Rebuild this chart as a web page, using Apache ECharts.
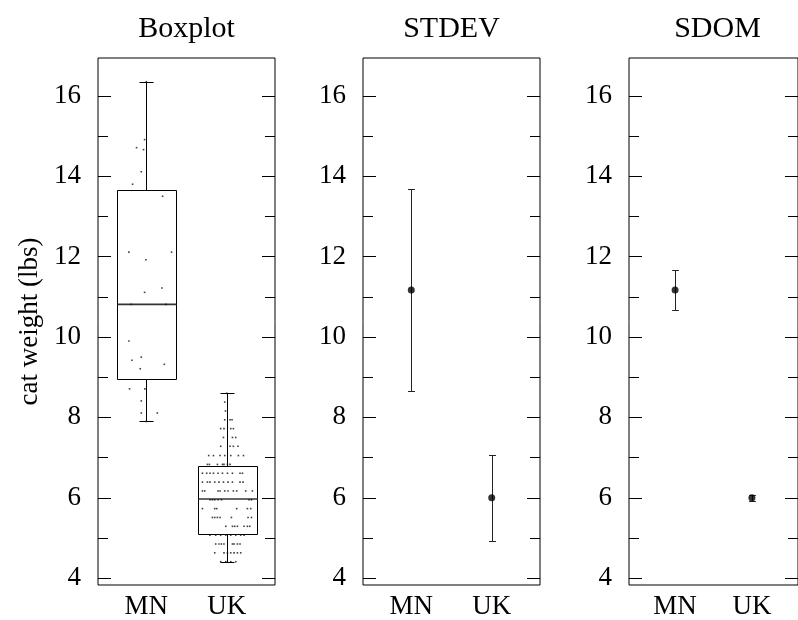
<!DOCTYPE html>
<html>
<head>
<meta charset="utf-8">
<script src="https://cdn.jsdelivr.net/npm/echarts@6/dist/echarts.min.js"></script>
<style>html,body{margin:0;padding:0;background:#fff}#c{width:798px;height:620px}</style>
</head>
<body>
<div id="c"></div>
<script>
// ---------------- data ----------------
const categories = ['MN', 'UK'];
const panelTitles = ['Boxplot', 'STDEV', 'SDOM'];
const yAxisName = 'cat weight (lbs)';
const yMajorTicks = [4, 6, 8, 10, 12, 14, 16];
const yMinorTicks = [5, 7, 9, 11, 13, 15];
const yRange = [3.83, 16.94];
const xRange = [0.4, 2.6];

// boxplot statistics per category
const boxLow    = [7.91, 4.41];
const boxQ1     = [8.96, 5.09];
const boxMedian = [10.81, 5.97];
const boxQ3     = [13.66, 6.79];
const boxHigh   = [16.35, 8.60];

// mean and spreads per category
const means = [11.17, 6.00];
const stdev = [2.52, 1.07];
const sdom  = [0.50, 0.07];

// MN raw observations (lbs) and their horizontal jitter
const mnValues = [16.35, 14.91, 14.71, 14.66, 14.11, 13.80, 13.50, 12.11, 12.11, 11.92, 11.22, 11.11,
  10.81, 10.81, 9.90, 9.50, 9.42, 9.32, 9.21, 8.71, 8.71, 8.41, 8.11, 8.11, 7.90];
const mnJitter = [0, -0.021, -0.121, -0.034, -0.062, -0.170, 0.203, -0.216, 0.314, -0.005, 0.194, -0.021,
  -0.186, 0.244, -0.216, -0.062, -0.179, 0.224, -0.075, -0.208, -0.017, -0.062, -0.062, 0.137, 0];

// UK observations: value levels (lbs) and jitter of each observation at that level
const ukLevels = [8.60, 8.38, 8.16, 7.94, 7.72, 7.50, 7.28, 7.05, 6.83, 6.61, 6.39, 6.17, 5.95, 5.73,
  5.51, 5.29, 5.07, 4.85, 4.63, 4.41];
const ukJitterByLevel = [
  [0],
  [-0.025],
  [-0.016],
  [-0.025, 0.041, 0.066],
  [-0.075, -0.034, 0.050, 0.083],
  [-0.041, 0.071, 0.112],
  [-0.075, 0.041, 0.083, 0.140],
  [-0.224, -0.165, -0.083, -0.025, 0.050, 0.145, 0.208],
  [-0.240, -0.215, -0.116, -0.053, -0.034, 0.009, 0.041],
  [-0.302, -0.249, -0.208, -0.165, -0.108, -0.053, 0.009, 0.071, 0.165, 0.195],
  [-0.302, -0.240, -0.208, -0.149, -0.096, -0.041, 0.016, 0.071, 0.165, 0.203],
  [-0.302, -0.273, -0.108, -0.083, -0.025, 0.016, 0.083, 0.124, 0.236, 0.319],
  [-0.208, -0.178, -0.149, -0.108, -0.066, 0.277, 0.307],
  [-0.302, -0.149, -0.124, 0.124, 0.257, 0.298],
  [-0.178, -0.149, -0.116, -0.083, 0.058, 0.265, 0.307],
  [-0.012, 0.071, 0.099, 0.133, 0.215, 0.257, 0.286],
  [-0.208, -0.137, -0.075, -0.012, 0.050, 0.112, 0.174, 0.215],
  [-0.137, -0.096, -0.066, -0.034, 0.071, 0.091, 0.133, 0.165],
  [-0.149, -0.034, 0.009, 0.050, 0.091, 0.133, 0.174],
  [-0.075, -0.012, 0.050, 0.112]
];

// ---------------- styling ----------------
const FONT = "'Liberation Serif', 'Times New Roman', serif";
const FS = 27;
const TITLE_FS = 30;
const BOX_W = 0.733;   // box width in x units
const STAPLE_W = 0.174;
const ERR_CAP_W = 0.087;
const panelLefts = [98, 363, 629];
const panelWidth = 177;
const panelTop = 58;
const panelHeight = 530;

// ---------------- build ----------------
const catX = categories.map((c, i) => i + 1);

const boxData = catX.map((x, i) => [x, boxLow[i], boxQ1[i], boxMedian[i], boxQ3[i], boxHigh[i]]);
const mnPoints = mnValues.map((v, i) => [catX[0] + mnJitter[i], v]);
const ukPoints = [];
ukLevels.forEach((v, li) => ukJitterByLevel[li].forEach(j => ukPoints.push([catX[1] + j, v])));

const px = v => Math.round(v) + 0.5;

function renderBox(params, api) {
  const x = api.value(0);
  const lo = api.coord([x, api.value(1)]);
  const q1 = api.coord([x, api.value(2)]);
  const md = api.coord([x, api.value(3)]);
  const q3 = api.coord([x, api.value(4)]);
  const hi = api.coord([x, api.value(5)]);
  const hw = api.size([BOX_W, 0])[0] / 2;
  const sw = api.size([STAPLE_W, 0])[0] / 2;
  const cx = px(lo[0]);
  const st = { stroke: '#000', lineWidth: 1, fill: null };
  const L = (x1, y1, x2, y2, w, c) => ({ type: 'line', shape: { x1, y1, x2, y2 }, style: { stroke: c || '#000', lineWidth: w || 1 } });
  return {
    type: 'group',
    children: [
      { type: 'rect', shape: { x: px(cx - hw), y: px(q3[1]), width: Math.round(2 * hw), height: Math.round(q1[1] - q3[1]) }, style: st },
      L(px(cx - hw), md[1], px(cx + hw), md[1], 1.6, '#333'),
      L(cx, px(q3[1]), cx, px(hi[1])),
      L(cx, px(q1[1]), cx, px(lo[1])),
      L(cx - sw, px(hi[1]), cx + sw, px(hi[1])),
      L(cx - sw, px(lo[1]), cx + sw, px(lo[1]))
    ]
  };
}

function renderErr(params, api) {
  const x = api.value(0);
  const m = api.value(1), e = api.value(2);
  const top = api.coord([x, m + e]);
  const bot = api.coord([x, m - e]);
  const cw = api.size([ERR_CAP_W, 0])[0] / 2;
  const cx = px(top[0]);
  const L = (x1, y1, x2, y2) => ({ type: 'line', shape: { x1, y1, x2, y2 }, style: { stroke: '#222', lineWidth: 1 } });
  return {
    type: 'group',
    children: [
      L(cx, px(top[1]), cx, px(bot[1])),
      L(cx - cw, px(top[1]), cx + cw, px(top[1])),
      L(cx - cw, px(bot[1]), cx + cw, px(bot[1]))
    ]
  };
}

const grids = [], xAxes = [], yAxes = [], titles = [], series = [];
panelLefts.forEach((left, g) => {
  grids.push({ left, top: panelTop, width: panelWidth, height: panelHeight, show: true,
    borderColor: '#000', borderWidth: 1, backgroundColor: 'transparent', containLabel: false });
  titles.push({ text: panelTitles[g], left: left + panelWidth / 2, top: 14, textAlign: 'center', padding: 0,
    textStyle: { fontFamily: FONT, fontSize: TITLE_FS, fontWeight: 'normal', color: '#000' } });
  xAxes.push({ gridIndex: g, type: 'value', min: xRange[0], max: xRange[1],
    axisLine: { show: false }, axisTick: { show: false }, splitLine: { show: false },
    axisLabel: { customValues: catX, formatter: v => categories[Math.round(v) - 1], margin: 8,
      fontFamily: FONT, fontSize: FS, color: '#000' } });
  const yBase = (pos, ticks, len, labels) => ({
    gridIndex: g, type: 'value', min: yRange[0], max: yRange[1], position: pos,
    axisLine: { show: false }, splitLine: { show: false },
    axisTick: { show: true, inside: true, length: len, customValues: ticks, lineStyle: { color: '#000', width: 1 } },
    axisLabel: labels ? { show: true, customValues: ticks, margin: 17, fontFamily: FONT, fontSize: FS, color: '#000' } : { show: false }
  });
  const yl = yBase('left', yMajorTicks, 13, true);
  if (g === 0) {
    yl.name = yAxisName; yl.nameLocation = 'middle'; yl.nameGap = 55;
    yl.nameTextStyle = { fontFamily: FONT, fontSize: FS, color: '#000' };
  }
  const base = yAxes.length;
  yAxes.push(yl, yBase('left', yMinorTicks, 10, false), yBase('right', yMajorTicks, 13, false), yBase('right', yMinorTicks, 10, false));
  const yi = base;
  if (g === 0) {
    series.push({ type: 'custom', xAxisIndex: g, yAxisIndex: yi, renderItem: renderBox, data: boxData, silent: true, z: 2 });
    series.push({ type: 'scatter', xAxisIndex: g, yAxisIndex: yi, data: mnPoints, symbol: 'rect', symbolSize: 1.6,
      itemStyle: { color: '#111' }, silent: true, z: 3 });
    series.push({ type: 'scatter', xAxisIndex: g, yAxisIndex: yi, data: ukPoints, symbol: 'rect', symbolSize: 1.6,
      itemStyle: { color: '#111' }, silent: true, z: 3 });
  } else {
    const spread = g === 1 ? stdev : sdom;
    series.push({ type: 'custom', xAxisIndex: g, yAxisIndex: yi, renderItem: renderErr,
      data: catX.map((x, i) => [x, means[i], spread[i]]), silent: true, z: 2 });
    series.push({ type: 'scatter', xAxisIndex: g, yAxisIndex: yi, data: catX.map((x, i) => [x, means[i]]),
      symbol: 'circle', symbolSize: 7, itemStyle: { color: '#000' }, silent: true, z: 3 });
  }
});

const chart = echarts.init(document.getElementById('c'), null, { renderer: 'canvas' });
chart.setOption({
  animation: false,
  backgroundColor: '#fff',
  title: titles,
  grid: grids,
  xAxis: xAxes,
  yAxis: yAxes,
  series
});
</script>
</body>
</html>
